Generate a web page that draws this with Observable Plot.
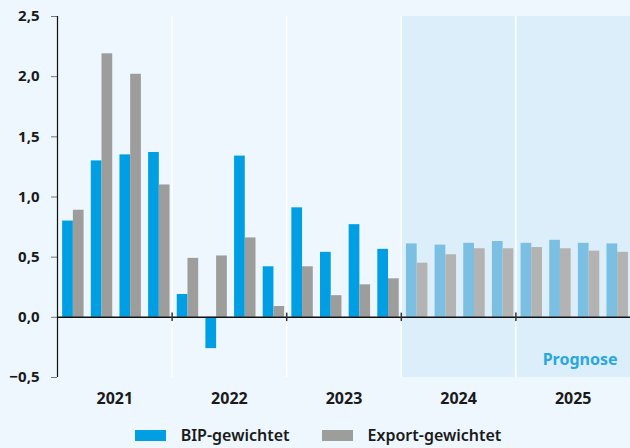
<!DOCTYPE html>
<html>
<head>
<meta charset="utf-8">
<script src="https://cdn.jsdelivr.net/npm/d3@7"></script>
<script src="https://cdn.jsdelivr.net/npm/@observablehq/plot@0.6"></script>
<style>
  html, body { margin: 0; padding: 0; background: #eef6fe; }
  body { width: 630px; height: 448px; overflow: hidden; font-family: "Noto Sans", sans-serif; }
  #legend { display: flex; justify-content: center; align-items: center; gap: 32px; height: 36px; padding-top: 5px; font-size: 16px; font-weight: 600; color: #1a1a1a; margin-left: 6px; }
  #legend .item { display: flex; align-items: center; gap: 15px; }
  #legend .sw { width: 31px; height: 11px; display: inline-block; }
</style>
</head>
<body>
<div id="chart"></div>
<div id="legend"></div>
<script>
const years = [2021, 2022, 2023, 2024, 2025];
const quartersPerYear = 4;
const forecastFrom = 2024;
const bipValues = [0.80, 1.30, 1.35, 1.37, 0.19, -0.26, 1.34, 0.42, 0.91, 0.54, 0.77, 0.565, 0.61, 0.60, 0.615, 0.63, 0.615, 0.64, 0.615, 0.61];
const exportValues = [0.89, 2.19, 2.02, 1.10, 0.49, 0.51, 0.66, 0.09, 0.42, 0.18, 0.27, 0.32, 0.45, 0.52, 0.57, 0.57, 0.58, 0.57, 0.55, 0.54];
const seriesNames = ["BIP-gewichtet", "Export-gewichtet"];
const yTicks = [-0.5, 0, 0.5, 1.0, 1.5, 2.0, 2.5];
const prognoseLabel = "Prognose";

const colors = {
  "BIP-gewichtet": {actual: "#009fe3", forecast: "#7bbfe2"},
  "Export-gewichtet": {actual: "#9d9d9c", forecast: "#b3b3b3"}
};

// layout in year units
const qStep = 1 / quartersPerYear;
const gapStart = 0.045;
const barW = 0.0935;

const rows = [];
years.forEach((yr, yi) => {
  for (let q = 0; q < quartersPerYear; q++) {
    const i = yi * quartersPerYear + q;
    const t0 = yr + q * qStep;
    const fc = yr >= forecastFrom;
    rows.push({series: seriesNames[0], x1: t0 + gapStart, x2: t0 + gapStart + barW, value: bipValues[i], fill: colors[seriesNames[0]][fc ? "forecast" : "actual"]});
    rows.push({series: seriesNames[1], x1: t0 + gapStart + barW, x2: t0 + gapStart + 2 * barW, value: exportValues[i], fill: colors[seriesNames[1]][fc ? "forecast" : "actual"]});
  }
});

const xMin = years[0], xMax = years[years.length - 1] + 1;
const fmt = v => (v < 0 ? "\u2212" : "") + Math.abs(v).toFixed(1).replace(".", ",");

const chart = Plot.plot({
  width: 630,
  height: 412,
  marginLeft: 57,
  marginRight: 0,
  marginTop: 16,
  marginBottom: 35,
  style: {background: "transparent", fontFamily: "Noto Sans, sans-serif", overflow: "visible"},
  x: {domain: [xMin, xMax], axis: null},
  y: {domain: [-0.5, 2.5], axis: null},
  marks: [
    Plot.rectY([{x1: forecastFrom, x2: xMax}], {x1: "x1", x2: "x2", y1: -0.5, y2: 2.5, fill: "#dbeefa"}),
    Plot.ruleX(years.slice(1), {y1: -0.5, y2: 2.5, stroke: "white", strokeWidth: 1.5}),
    Plot.rectY(rows, {x1: "x1", x2: "x2", y1: 0, y2: "value", fill: "fill"}),
    Plot.ruleY([0], {stroke: "#111", strokeWidth: 1.5}),
    Plot.ruleX(years.slice(1), {y1: -0.035, y2: 0.035, stroke: "#333", strokeWidth: 1.5}),
    Plot.axisY({ticks: yTicks, tickFormat: fmt, label: null, tickSize: 6, tickPadding: 12, fontSize: 15, fontWeight: 700, stroke: "#777", color: "#1a1a1a"}),
    Plot.ruleX([xMin], {y1: -0.5, y2: 2.5, stroke: "#111", strokeWidth: 1.2}),
    Plot.text(years, {x: d => d + 0.5, y: -0.5, text: d => String(d), dy: 21, fontSize: 16, fontWeight: 700, fill: "#1a1a1a"}),
    Plot.text([prognoseLabel], {x: xMax, y: -0.5, text: d => d, dx: -13, dy: -18, textAnchor: "end", fontSize: 16, fontWeight: 700, fill: "#2aa6e0"})
  ]
});
document.getElementById("chart").appendChild(chart);

const legend = document.getElementById("legend");
seriesNames.forEach(name => {
  const item = document.createElement("div");
  item.className = "item";
  const sw = document.createElement("span");
  sw.className = "sw";
  sw.style.background = colors[name].actual;
  const lab = document.createElement("span");
  lab.textContent = name;
  item.appendChild(sw);
  item.appendChild(lab);
  legend.appendChild(item);
});
</script>
</body>
</html>
